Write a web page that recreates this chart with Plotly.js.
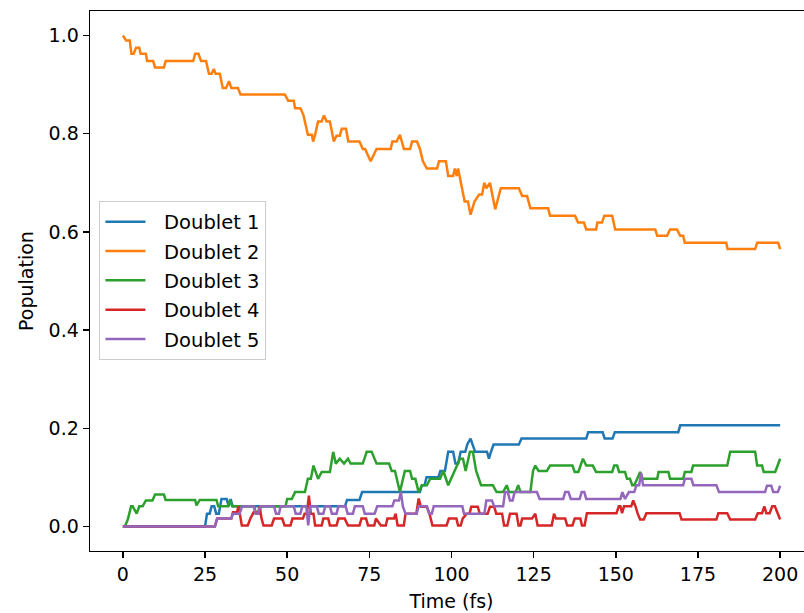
<!DOCTYPE html>
<html>
<head>
<meta charset="utf-8">
<script src="https://cdn.plot.ly/plotly-3.0.1.min.js"></script>
<style>
html,body{margin:0;padding:0;overflow:hidden;background:#fff;}
#chart{width:813px;height:613px;}
</style>
</head>
<body>
<div id="chart"></div>
<script>
// Series names
const seriesNames = ["Doublet 1", "Doublet 2", "Doublet 3", "Doublet 4", "Doublet 5"];
const seriesColors = ["#1f77b4", "#ff7f0e", "#2ca02c", "#d62728", "#9467bd"];

// [time (fs), population]
const doublet1 = [[0,0],[25,0],[25.6,0.026],[26.4,0.026],[27,0.041],[27.8,0.041],[28.4,0.026],[29.2,0.026],[30,0.056],[31.6,0.056],[32.2,0.041],[32.8,0.056],[33.4,0.041],[67.6,0.041],[68.2,0.054],[72,0.054],[72.8,0.07],[90.4,0.07],[91,0.084],[91.8,0.084],[92.4,0.1],[96,0.1],[96.6,0.113],[98,0.113],[99,0.152],[100.5,0.152],[101.2,0.128],[102,0.128],[102.8,0.152],[104.2,0.152],[104.8,0.167],[105.8,0.179],[106.4,0.167],[107.2,0.152],[110.8,0.152],[111.4,0.138],[112,0.152],[112.8,0.167],[120.5,0.167],[121.3,0.179],[141,0.179],[141.6,0.192],[146,0.192],[146.6,0.179],[149,0.179],[149.7,0.192],[169,0.192],[169.6,0.206],[200,0.206]];

const doublet2 = [[0,1.0],[1,0.99],[2.1,0.99],[2.6,0.963],[3.3,0.963],[4,0.975],[5,0.975],[5.4,0.963],[7,0.963],[7.4,0.948],[9.2,0.948],[9.8,0.935],[12.5,0.935],[13,0.948],[21.4,0.948],[22,0.963],[23,0.963],[23.8,0.948],[25.3,0.948],[26.2,0.922],[27,0.922],[27.7,0.932],[28.2,0.922],[29.5,0.922],[30.4,0.893],[31.4,0.893],[32.3,0.907],[33,0.893],[35,0.893],[35.8,0.88],[49.3,0.88],[50.3,0.867],[52,0.867],[52.4,0.852],[54,0.852],[54.9,0.839],[56.3,0.798],[57.5,0.798],[57.9,0.784],[58.5,0.798],[59.4,0.825],[60.5,0.825],[61.2,0.837],[62,0.825],[63,0.825],[64.2,0.784],[65,0.796],[66,0.796],[66.6,0.81],[67.9,0.81],[68.6,0.784],[72,0.784],[73,0.769],[73.7,0.769],[75.4,0.744],[77.2,0.769],[81.5,0.769],[82,0.784],[83.3,0.784],[84.3,0.798],[85.5,0.769],[87.4,0.769],[88,0.784],[89.5,0.784],[90.4,0.769],[91.3,0.744],[92.5,0.729],[95.6,0.729],[96.2,0.744],[98.3,0.744],[99,0.714],[100.5,0.714],[101,0.729],[101.6,0.714],[102,0.729],[104,0.662],[105,0.662],[105.8,0.635],[107,0.662],[108.4,0.676],[109.3,0.676],[110,0.7],[110.6,0.689],[111.7,0.7],[113.3,0.646],[115,0.689],[120.5,0.689],[121.5,0.673],[123,0.673],[124,0.648],[129.4,0.648],[130,0.633],[137.6,0.633],[138.5,0.619],[140.3,0.619],[141,0.605],[144,0.605],[144.4,0.619],[145.8,0.619],[146.5,0.633],[148.9,0.633],[149.8,0.605],[162,0.605],[162.6,0.592],[165.6,0.592],[166.5,0.605],[168.6,0.605],[169.6,0.592],[170.5,0.592],[171,0.578],[183.6,0.578],[184,0.565],[192.4,0.565],[193,0.578],[199.4,0.578],[200,0.565]];

const doublet3 = [[0,0],[0.6,0],[1.5,0.014],[2.5,0.041],[3,0.041],[4.2,0.026],[5,0.041],[6,0.041],[7,0.053],[9,0.053],[9.8,0.065],[12.5,0.065],[13,0.054],[22,0.054],[22.4,0.043],[23.4,0.054],[28.5,0.054],[29,0.041],[32,0.041],[32.6,0.054],[33.3,0.041],[40,0.041],[40.5,0.026],[41.5,0.026],[42,0.041],[49.5,0.041],[50,0.056],[51.4,0.056],[52.4,0.07],[55.4,0.07],[56.3,0.097],[57.2,0.097],[58,0.124],[59.4,0.097],[60.5,0.111],[63,0.111],[64,0.152],[64.8,0.128],[66,0.138],[67.3,0.128],[68.5,0.138],[69.3,0.128],[73,0.128],[74.2,0.152],[75.7,0.152],[77.2,0.128],[81,0.128],[81.8,0.113],[82.8,0.113],[84.3,0.07],[85.8,0.113],[87.4,0.113],[88,0.097],[89,0.097],[90,0.07],[91,0.084],[92.5,0.084],[93.5,0.097],[96.5,0.097],[97.5,0.113],[99,0.084],[100,0.1],[102.6,0.138],[103.5,0.138],[104.3,0.113],[105.6,0.152],[106.5,0.152],[107.5,0.113],[109,0.084],[112.6,0.084],[113.7,0.07],[115.7,0.07],[116.8,0.084],[117.5,0.07],[119.5,0.07],[120.3,0.084],[121,0.07],[124,0.07],[124.8,0.113],[125.5,0.124],[126.5,0.113],[129,0.113],[130,0.124],[136.8,0.124],[137.5,0.111],[138.6,0.111],[139.2,0.124],[140,0.138],[141,0.124],[143,0.124],[144,0.111],[148.9,0.111],[149.5,0.124],[150.4,0.124],[151,0.111],[152.8,0.111],[153.4,0.097],[154.3,0.097],[155,0.084],[155.6,0.084],[156.5,0.097],[157.4,0.111],[158.2,0.097],[162.6,0.097],[163,0.111],[166,0.111],[166.5,0.097],[170.5,0.097],[171,0.111],[173,0.111],[173.5,0.124],[183.9,0.124],[184.8,0.152],[192.4,0.152],[193,0.124],[194.5,0.124],[195,0.111],[198.5,0.111],[200,0.138]];

const doublet4 = [[0,0],[28,0],[28.7,0.016],[33,0.016],[33.5,0.029],[34.7,0.029],[35.2,0.041],[35.7,0.016],[36.2,0.002],[38,0.002],[38.8,0.016],[39.8,0.029],[41.2,0.029],[41.6,0.041],[42.2,0.016],[42.8,0.002],[45.3,0.002],[46,0.016],[48.5,0.016],[49.2,0.002],[51,0.002],[51.6,0.016],[54.8,0.016],[55.3,0.026],[56,0.026],[56.6,0.063],[57.2,0.026],[58,0.026],[58.5,0.002],[60.5,0.002],[61,0.016],[62.5,0.016],[63,0.002],[65,0.002],[65.6,0.016],[67.5,0.016],[68.5,0.002],[72,0.002],[72.6,0.016],[74,0.016],[74.6,0.002],[76.5,0.002],[77,0.016],[78.5,0.002],[80,0.002],[80.5,0.016],[82.5,0.016],[83,0.026],[83.6,0.002],[85.5,0.002],[86,0.026],[89.3,0.026],[90,0.057],[90.7,0.04],[92.5,0.04],[93.3,0.026],[94.2,0.002],[98.5,0.002],[99.2,0.016],[101.5,0.016],[102,0.002],[102.8,0.002],[103.4,0.016],[104.6,0.026],[105.5,0.026],[106,0.04],[108,0.04],[108.6,0.026],[111,0.026],[111.7,0.04],[113,0.04],[113.6,0.026],[115.4,0.026],[116,0.002],[117,0.002],[117.8,0.026],[119.8,0.026],[120.4,0.002],[121,0.002],[121.5,0.016],[124.5,0.016],[125.5,0.026],[126.2,0.002],[130.5,0.002],[131.2,0.026],[131.8,0.016],[134.6,0.016],[135.2,0.002],[136.8,0.002],[137.5,0.016],[139.2,0.016],[139.7,0.002],[140.5,0.002],[141.2,0.027],[150.2,0.027],[150.9,0.041],[151.4,0.041],[151.9,0.027],[152.5,0.041],[154.7,0.041],[155.3,0.053],[156,0.041],[156.6,0.027],[157.4,0.014],[158.5,0.014],[159.3,0.027],[169.4,0.027],[170,0.014],[180.6,0.014],[181.2,0.027],[183.9,0.027],[184.8,0.014],[192.4,0.014],[193.2,0.027],[194.5,0.027],[195.2,0.041],[195.8,0.027],[196.8,0.027],[197.6,0.041],[198.4,0.041],[199.2,0.027],[200,0.014]];

const doublet5 = [[0,0],[28,0],[28.7,0.016],[33,0.016],[33.5,0.026],[35.5,0.026],[36.3,0.041],[39.8,0.041],[40.4,0.026],[41.2,0.026],[41.8,0.041],[46,0.041],[46.6,0.026],[47.5,0.026],[48,0.041],[52,0.041],[52.6,0.026],[54,0.026],[54.6,0.041],[55.8,0.041],[56.4,0.002],[57,0.041],[59,0.041],[59.6,0.026],[61,0.026],[61.6,0.041],[63,0.041],[63.6,0.026],[65,0.026],[65.6,0.041],[67.8,0.041],[68.4,0.026],[70,0.026],[70.6,0.041],[73,0.041],[73.6,0.026],[76.6,0.026],[77.4,0.041],[82,0.041],[82.6,0.053],[84,0.053],[84.6,0.07],[85.2,0.041],[86,0.026],[89.4,0.026],[90,0.041],[92.5,0.041],[93.2,0.026],[94,0.026],[94.6,0.041],[103.3,0.041],[103.8,0.026],[110,0.026],[110.6,0.053],[112.3,0.053],[113,0.041],[115.7,0.041],[116.3,0.07],[117.1,0.07],[117.8,0.053],[118.6,0.053],[119.2,0.07],[126,0.07],[126.8,0.056],[134,0.056],[134.6,0.07],[135.6,0.07],[136.3,0.056],[139,0.056],[139.6,0.07],[140.4,0.07],[141,0.056],[151.4,0.056],[152,0.07],[152.8,0.056],[154,0.07],[155.6,0.07],[156.3,0.084],[157.1,0.084],[157.7,0.109],[158.3,0.084],[170.5,0.084],[171,0.097],[173,0.097],[173.6,0.084],[180.6,0.084],[181.4,0.07],[195.4,0.07],[196,0.083],[197.3,0.083],[197.9,0.07],[199.3,0.07],[200,0.083]];

const xTicks = [0, 25, 50, 75, 100, 125, 150, 175, 200];
const yTicks = [0, 0.2, 0.4, 0.6, 0.8, 1.0];
const yTickText = ["0.0", "0.2", "0.4", "0.6", "0.8", "1.0"];

const allSeries = [doublet1, doublet2, doublet3, doublet4, doublet5];

const traces = allSeries.map((s, i) => ({
  type: "scatter",
  mode: "lines",
  name: "\u2002\u2009" + seriesNames[i],
  legendgroup: "g" + i,
  x: s.map(p => p[0]),
  y: s.map(p => p[1]),
  line: {color: seriesColors[i], width: 2.5},
  hoverinfo: "skip"
}));

const axisCommon = {
  showgrid: false,
  zeroline: false,
  showline: true,
  linecolor: "#000",
  linewidth: 1.4,
  mirror: true,
  ticks: "outside",
  ticklen: 6,
  tickwidth: 1.4,
  tickcolor: "#000",
  tickfont: {family: "DejaVu Sans", size: 19, color: "#000"},
  fixedrange: true
};

const layout = {
  width: 813,
  height: 613,
  margin: {l: 90, r: 0, t: 11, b: 62},
  paper_bgcolor: "#fff",
  plot_bgcolor: "#fff",
  font: {family: "DejaVu Sans", size: 19, color: "#000"},
  showlegend: true,
  legend: {
    x: 0.0125, y: 0.648, xanchor: "left", yanchor: "top",
    bgcolor: "rgba(255,255,255,0.8)",
    bordercolor: "#cccccc",
    borderwidth: 1.4,
    font: {family: "DejaVu Sans", size: 19.5, color: "#000"},
    itemwidth: 40,
    traceorder: "grouped",
    tracegroupgap: 1
  },
  xaxis: Object.assign({}, axisCommon, {
    range: [-10, 210],
    tickmode: "array",
    tickvals: xTicks,
    ticktext: xTicks.map(String),
    title: {text: "Time (fs)", font: {family: "DejaVu Sans", size: 19, color: "#000"}, standoff: 10},
    automargin: false
  }),
  yaxis: Object.assign({}, axisCommon, {
    range: [-0.05, 1.05],
    tickmode: "array",
    tickvals: yTicks,
    ticktext: yTickText,
    title: {text: "Population", font: {family: "DejaVu Sans", size: 19, color: "#000"}, standoff: 10},
    automargin: false
  })
};

Plotly.newPlot("chart", traces, layout, {staticPlot: true, displayModeBar: false});
</script>
</body>
</html>
